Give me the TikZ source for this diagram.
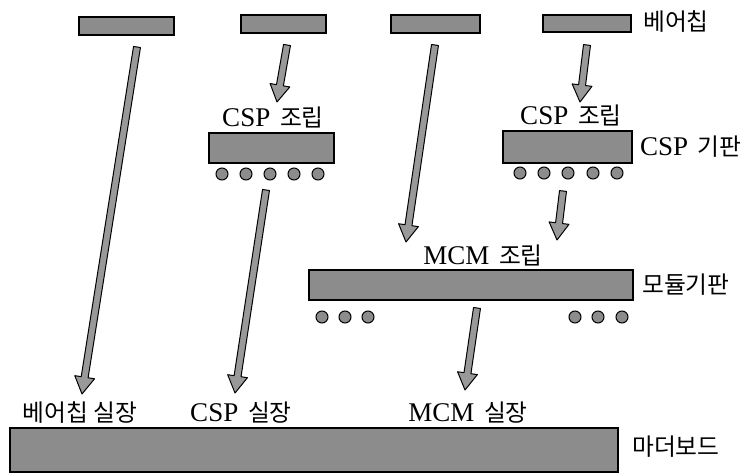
\documentclass[tikz,border=0pt]{standalone}
\usepackage{fontspec}
\setmainfont{Liberation Serif}
\newfontfamily\kr{Noto Sans CJK KR}[Scale=0.88]
\usetikzlibrary{calc}
\tikzset{
  part/.style={draw=black, line width=1.3pt, fill=black!45, inner sep=0pt, rectangle},
  ball/.style={draw=black, line width=1pt, fill=black!45, circle, inner sep=0pt, minimum size=12pt},
  lbl/.style={inner sep=0pt, font=\fontsize{27pt}{30pt}\selectfont},
  fatarr/.style={draw=black, line width=1pt, fill=black!40, line join=round},
}
\newcommand\fatarrow[2]{%
  \coordinate (#1h) at ($(#2)!17pt!(#1)$);
  \filldraw[fatarr] ($(#1)!3.5pt!90:(#2)$) -- ($(#1h)!3.5pt!90:(#2)$)
    -- ($(#1h)!10pt!90:(#2)$) -- (#2) -- ($(#1h)!10pt!-90:(#2)$)
    -- ($(#1h)!3.5pt!-90:(#2)$) -- ($(#1)!3.5pt!-90:(#2)$) -- cycle;}
\begin{document}
\begin{tikzpicture}[x=1pt,y=-1pt]
\useasboundingbox (0,0) rectangle (753,476);
% bare chips
\node[part, minimum width=95pt, minimum height=18pt] (c1) at (126.5,26) {};
\node[part, minimum width=85pt, minimum height=18pt] (c2) at (283.5,24) {};
\node[part, minimum width=89pt, minimum height=18pt] (c3) at (435.5,24) {};
\node[part, minimum width=88pt, minimum height=17pt] (c4) at (587,23.5) {};
\node[lbl, anchor=west] (tbare) at (643,22) {\kr 베어칩};
% CSP 1
\node[lbl] (tcsp1) at (273,117) {CSP\kern3pt\ {\kr 조립}};
\node[part, minimum width=125pt, minimum height=30pt] (s1) at (271.5,148) {};
\foreach \x [count=\i] in {222,246,270,294,318}
  \node[ball] (b1\i) at (\x,174) {};
% CSP 2
\node[lbl] (tcsp2) at (571,115) {CSP\kern3pt\ {\kr 조립}};
\node[part, minimum width=129pt, minimum height=32pt] (s2) at (567.5,147) {};
\node[lbl, anchor=west] (tcspsub) at (640,147) {CSP\kern3pt\ {\kr 기판}};
\foreach \x [count=\i] in {520,544,568,593,617}
  \node[ball] (b2\i) at (\x,173) {};
% module
\node[lbl] (tmcm) at (483,255) {MCM\kern3pt\ {\kr 조립}};
\node[part, minimum width=324pt, minimum height=30pt] (m) at (471,285) {};
\node[lbl, anchor=west] (tmod) at (642,285) {\kr 모듈기판};
\foreach \x [count=\i] in {322,345,368,575,598,622}
  \node[ball] (b3\i) at (\x,317) {};
% motherboard
\node[lbl] (tm1) at (80,413) {\kr 베어칩 실장};
\node[lbl] (tm2) at (241,413) {CSP\kern3pt\ {\kr 실장}};
\node[lbl] (tm3) at (468,413) {MCM\kern3pt\ {\kr 실장}};
\node[part, minimum width=608pt, minimum height=44pt] (mb) at (314,450) {};
\node[lbl, anchor=west] (tmb) at (632,447) {\kr 마더보드};
% arrows
\coordinate (a1s) at (137,47);  \coordinate (a1e) at (82,394);
\coordinate (a2s) at (287,45);  \coordinate (a2e) at (277,102);
\coordinate (a3s) at (435,45);  \coordinate (a3e) at (406,242);
\coordinate (a4s) at (587,45);  \coordinate (a4e) at (580,102);
\coordinate (a5s) at (266,190); \coordinate (a5e) at (235,393);
\coordinate (a6s) at (563,191); \coordinate (a6e) at (557,240);
\coordinate (a7s) at (477,308); \coordinate (a7e) at (465,390);
\fatarrow{a1s}{a1e}
\fatarrow{a2s}{a2e}
\fatarrow{a3s}{a3e}
\fatarrow{a4s}{a4e}
\fatarrow{a5s}{a5e}
\fatarrow{a6s}{a6e}
\fatarrow{a7s}{a7e}
\end{tikzpicture}
\end{document}
